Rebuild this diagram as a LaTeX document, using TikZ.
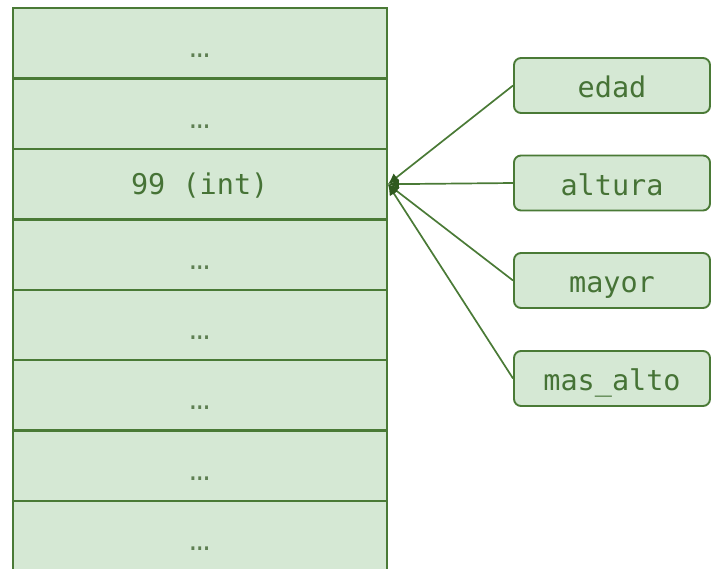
\documentclass[tikz,border=0pt]{standalone}
\usepackage{fontspec}
\setmonofont{DejaVu Sans Mono}
\newfontfamily\dotfont{Liberation Mono}
\usetikzlibrary{arrows.meta}
\definecolor{cellfill}{HTML}{D5E8D4}
\definecolor{cellline}{HTML}{4A7A36}
\definecolor{txtcol}{HTML}{467336}
\definecolor{dotcol}{HTML}{5E7F52}
\definecolor{arrcol}{HTML}{2F5A1F}
\begin{document}
\begin{tikzpicture}[x=1pt,y=-1pt,
  cell/.style={draw=cellline,fill=cellfill,line width=2.4pt,minimum width=374pt,minimum height=70.4pt,inner sep=0pt,
    font=\ttfamily\fontsize{28.5}{34}\selectfont,text=txtcol,anchor=north west,text height=20pt,text depth=0pt},
  dots/.style={font=\dotfont\fontsize{34}{40}\selectfont,text=dotcol,text height=29pt},
  varbox/.style={draw=cellline,fill=cellfill,line width=1.9pt,rounded corners=7pt,minimum width=196pt,minimum height=55pt,inner sep=0pt,
    font=\ttfamily\fontsize{28.5}{34}\selectfont,text=txtcol,text height=24pt,text depth=0pt},
  ref/.style={draw=cellline,line width=1.7pt,-{Latex[length=11pt,width=10pt,color=arrcol,fill=arrcol]}}]
\useasboundingbox (0,0) rectangle (711,568);
\clip (0,0) rectangle (711,568);
\node[cell,dots] (r1) at (11.5,7) {…};
\node[cell,dots] (r2) at (11.5,77.4) {…};
\node[cell] (r3) at (11.5,147.8) {99 (int)};
\node[cell,dots] (r4) at (11.5,218.2) {…};
\node[cell,dots] (r5) at (11.5,288.6) {…};
\node[cell,dots] (r6) at (11.5,359) {…};
\node[cell,dots] (r7) at (11.5,429.4) {…};
\node[cell,dots] (r8) at (11.5,499.8) {…};
\node[varbox] (edad) at (612,85.5) {edad};
\node[varbox] (altura) at (612,183) {altura};
\node[varbox] (mayor) at (612,280.5) {mayor};
\node[varbox] (masalto) at (612,378.5) {mas\_alto};
\draw[ref] (edad.west) -- (r3.east);
\draw[ref] (altura.west) -- (r3.east);
\draw[ref] (mayor.west) -- (r3.east);
\draw[ref] (masalto.west) -- (r3.east);
\end{tikzpicture}
\end{document}
